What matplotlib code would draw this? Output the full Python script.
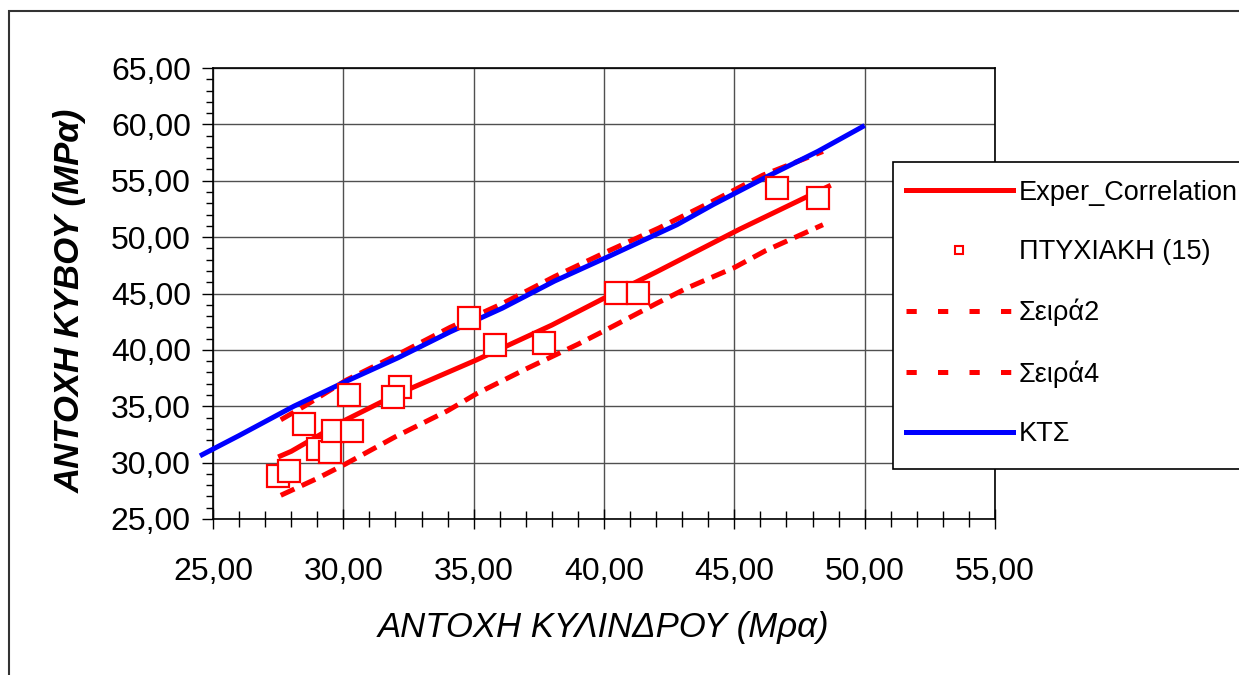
import matplotlib
matplotlib.use("Agg")
import matplotlib.pyplot as plt
from matplotlib.lines import Line2D
from matplotlib.patches import Rectangle
from matplotlib.ticker import MultipleLocator, FuncFormatter

plt.rcParams["font.family"] = ["Liberation Sans", "DejaVu Sans"]

# ── δεδομένα ──
kts_x = [24.5, 26.0, 28.1, 30.1, 32.1, 34.1, 36.1, 38.1, 40.1, 41.4, 42.8, 44.2, 46.2, 48.2, 50.0]
kts_y = [30.6, 32.4, 35.0, 37.2, 39.3, 41.6, 43.7, 46.1, 48.2, 49.6, 51.1, 52.9, 55.3, 57.6, 59.9]

s2_x = [27.6, 28.5, 30.1, 32.1, 34.1, 36.1, 38.1, 40.1, 42.1, 44.1, 46.1, 48.4]
s2_y = [33.8, 35.0, 37.3, 39.6, 42.0, 44.1, 46.5, 48.7, 50.8, 53.1, 55.5, 57.6]

s4_x = [27.6, 29.0, 30.1, 32.0, 34.0, 35.1, 37.0, 39.0, 40.1, 42.0, 43.2, 45.0, 46.2, 48.4]
s4_y = [27.1, 28.6, 29.9, 32.3, 34.6, 36.1, 38.3, 40.5, 41.8, 44.1, 45.5, 47.3, 48.8, 51.1]

corr_x = [27.5, 28.0, 30.1, 32.0, 35.1, 38.0, 40.1, 42.0, 45.2, 48.7]
corr_y = [30.5, 31.0, 33.8, 36.0, 39.1, 42.2, 44.7, 46.9, 50.7, 54.6]

exp_x = [27.51, 27.93, 28.51, 29.02, 29.49, 29.62, 30.35, 30.22, 32.18, 31.89,
         34.83, 35.82, 37.68, 40.45, 41.29, 46.65, 48.22]
exp_y = [28.84, 29.29, 33.43, 31.21, 30.97, 32.81, 32.81, 36.03, 36.74, 35.85,
         42.83, 40.44, 40.64, 45.03, 45.03, 54.40, 53.51]

labels = ["Exper_Correlation", "ΠΤΥΧΙΑΚΗ (15)", "Σειρά2", "Σειρά4", "ΚΤΣ"]

RED = "#ff0000"
BLUE = "#0000ff"
LW = 3.6

W, H = 1239, 675
fig = plt.figure(figsize=(W / 100, H / 100), dpi=100)
ax = fig.add_axes([213 / W, 1 - 519 / H, (995 - 213) / W, (519 - 68) / H])

dash = (0, (3.0, 1.6))
ax.plot(s2_x, s2_y, color=RED, lw=LW, linestyle=dash, zorder=3)
ax.plot(s4_x, s4_y, color=RED, lw=LW, linestyle=dash, zorder=3)
ax.plot(corr_x, corr_y, color=RED, lw=LW, zorder=3, solid_capstyle="butt")
ax.plot(kts_x, kts_y, color=BLUE, lw=LW, zorder=4, clip_on=False, solid_capstyle="butt")
ax.plot(exp_x, exp_y, linestyle="none", marker="s", ms=16, mfc="white",
        mec=RED, mew=1.6, zorder=5)

ax.set_xlim(25, 55)
ax.set_ylim(25, 65)
ax.xaxis.set_major_locator(MultipleLocator(5))
ax.xaxis.set_minor_locator(MultipleLocator(1))
ax.yaxis.set_major_locator(MultipleLocator(5))
ax.yaxis.set_minor_locator(MultipleLocator(1))
fmt = FuncFormatter(lambda v, p: f"{v:.2f}".replace(".", ","))
ax.xaxis.set_major_formatter(fmt)
ax.yaxis.set_major_formatter(fmt)

ax.grid(True, which="major", color="#505050", lw=1.0, zorder=1)
ax.set_axisbelow(True)
for s in ax.spines.values():
    s.set_color("black")
    s.set_linewidth(1.2)

ax.tick_params(axis="x", which="major", direction="inout", length=14, width=1,
               labelsize=23, pad=20)
ax.tick_params(axis="x", which="minor", direction="inout", length=11, width=1)
ax.tick_params(axis="y", which="major", direction="out", length=8, width=1,
               labelsize=23, pad=8)
ax.tick_params(axis="y", which="minor", direction="out", length=5, width=1)

ax.set_xlabel("ΑΝΤΟΧΗ ΚΥΛΙΝΔΡΟΥ (Μρα)", fontsize=25, style="italic", labelpad=18)
ax.set_ylabel("ΑΝΤΟΧΗ ΚΥΒΟΥ (MPα)", fontsize=25, style="italic",
              fontweight="bold")
ax.yaxis.set_label_coords(-0.161, 0.483)

# υπόμνημα: χωρίς δικό του πλαίσιο, το πλαίσιο σχεδιάζεται ξεχωριστά
handles = [
    Line2D([], [], color=RED, lw=LW),
    Line2D([], [], color=RED, linestyle="none", marker="s", ms=6, mfc="white", mew=1.5),
    Line2D([], [], color=RED, lw=LW, linestyle=(0, (2.05, 4.25))),
    Line2D([], [], color=RED, lw=LW, linestyle=(0, (2.05, 4.25))),
    Line2D([], [], color=BLUE, lw=LW),
]
leg = fig.legend(handles, labels, loc="upper left",
                 bbox_to_anchor=(895 / W, 1 - 169 / H),
                 bbox_transform=fig.transFigure, borderaxespad=0,
                 fontsize=19.5, handlelength=3.95, handletextpad=0.22,
                 labelspacing=1.24, borderpad=0.4, frameon=False)
fig.patches.append(Rectangle((893 / W, 1 - 469 / H), 0.5, (469 - 162) / H,
                             transform=fig.transFigure, fill=True,
                             facecolor="white", edgecolor="black", lw=1.2,
                             zorder=0))

# εξωτερικό πλαίσιο
fig.patches.append(Rectangle((9 / W, -0.1), 1.2, 1.1 - 11 / H,
                             transform=fig.transFigure, fill=False,
                             edgecolor="#333333", lw=1.5))

fig.savefig("out.png", dpi=100)
